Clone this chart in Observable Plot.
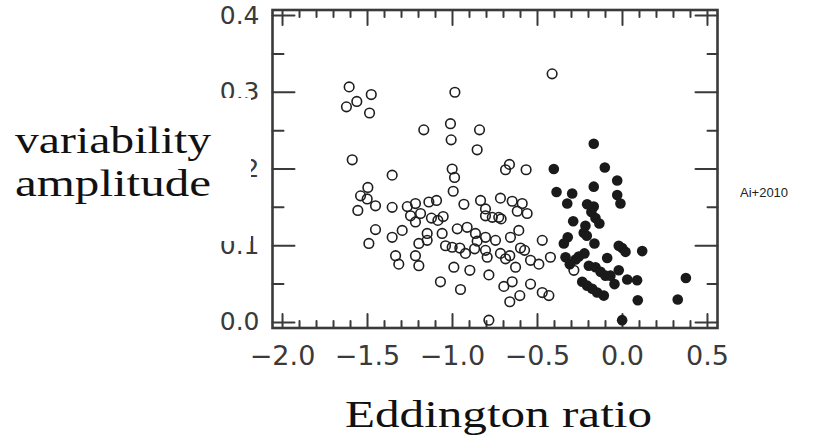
<!DOCTYPE html>
<html>
<head>
<meta charset="utf-8">
<script src="https://cdn.jsdelivr.net/npm/d3@7"></script>
<script src="https://cdn.jsdelivr.net/npm/@observablehq/plot@0.6"></script>
<style>
  html, body { margin: 0; padding: 0; background: #fff; }
  #chart { width: 821px; height: 439px; }
</style>
</head>
<body>
<div id="chart"></div>
<script>
// ---- data ----
const xMajorTicks = [-2.0, -1.5, -1.0, -0.5, 0.0, 0.5];
const xMinorTicks = [-1.9, -1.8, -1.7, -1.6, -1.4, -1.3, -1.2, -1.1, -0.9, -0.8, -0.7, -0.6,
                     -0.4, -0.3, -0.2, -0.1, 0.1, 0.2, 0.3, 0.4];
const yMajorTicks = [0.0, 0.1, 0.2, 0.3, 0.4];
const yMinorTicks = [0.05, 0.15, 0.25, 0.35];

const yTitleLines = ["variability", "amplitude"];
const xTitle = "Eddington ratio";
const sourceNote = "Ai+2010";

// open circles (lower Eddington ratio)
const openX = [-1.608, -1.478, -1.563, -1.624, -1.488, -1.169, -0.414, -0.986, -1.012, -1.008,
  -0.841, -0.855, -1.590, -1.355, -1.002, -0.988, -0.996, -0.665, -0.688, -0.567,
  -1.498, -1.541, -1.502, -1.557, -1.453, -1.355, -1.266, -1.218, -1.139, -1.094,
  -0.933, -0.835, -0.806, -0.718, -0.649, -0.590, -0.561, -0.619, -1.247, -1.188,
  -1.124, -1.086, -1.055, -1.218, -0.806, -0.766, -0.728, -0.714, -1.453, -1.296,
  -1.355, -1.492, -1.149, -1.061, -1.198, -1.149, -0.972, -0.914, -1.041, -1.002,
  -0.957, -0.924, -0.865, -0.806, -0.747, -0.870, -0.806, -0.796, -0.659, -0.610,
  -0.718, -0.688, -0.663, -0.629, -0.576, -0.541, -0.492, -0.472, -0.424, -1.335,
  -1.316, -1.218, -1.198, -0.992, -0.898, -0.786, -1.071, -0.953, -0.698, -0.649,
  -0.663, -0.604, -0.541, -0.472, -0.433, -0.786, -0.286, -0.600, -0.855];
const openY = [0.307, 0.297, 0.288, 0.281, 0.273, 0.251, 0.324, 0.300, 0.259, 0.238,
  0.251, 0.225, 0.212, 0.192, 0.200, 0.189, 0.171, 0.206, 0.199, 0.199,
  0.176, 0.165, 0.161, 0.146, 0.152, 0.150, 0.151, 0.155, 0.157, 0.159,
  0.154, 0.159, 0.148, 0.162, 0.158, 0.155, 0.142, 0.145, 0.139, 0.142,
  0.136, 0.133, 0.138, 0.131, 0.139, 0.137, 0.137, 0.135, 0.121, 0.120,
  0.111, 0.103, 0.116, 0.116, 0.103, 0.107, 0.122, 0.124, 0.100, 0.098,
  0.097, 0.090, 0.116, 0.111, 0.107, 0.096, 0.094, 0.085, 0.111, 0.120,
  0.090, 0.083, 0.087, 0.072, 0.094, 0.081, 0.076, 0.107, 0.085, 0.087,
  0.076, 0.087, 0.074, 0.072, 0.068, 0.062, 0.053, 0.043, 0.047, 0.053,
  0.027, 0.035, 0.050, 0.039, 0.035, 0.003, 0.068, 0.097, 0.106];

// filled circles (higher Eddington ratio)
const filledX = [-0.169, -0.104, -0.404, -0.031, -0.169, -0.388, -0.296, -0.031, -0.012, -0.325,
  -0.208, -0.169, -0.183, -0.159, -0.136, -0.290, -0.218, -0.228, -0.210, -0.322,
  -0.345, -0.165, -0.022, -0.002, 0.018, 0.116, -0.335, -0.257, -0.224, -0.276,
  -0.090, -0.310, -0.198, -0.159, -0.129, -0.100, -0.071, -0.022, -0.047, 0.028,
  0.086, 0.373, -0.237, -0.208, -0.178, -0.149, -0.110, 0.090, 0.325, -0.002];
const filledY = [0.233, 0.202, 0.200, 0.185, 0.177, 0.170, 0.168, 0.166, 0.155, 0.155,
  0.154, 0.151, 0.144, 0.136, 0.129, 0.132, 0.126, 0.117, 0.113, 0.111,
  0.103, 0.103, 0.100, 0.097, 0.092, 0.093, 0.085, 0.086, 0.090, 0.082,
  0.084, 0.076, 0.074, 0.072, 0.066, 0.061, 0.061, 0.068, 0.050, 0.056,
  0.055, 0.058, 0.053, 0.048, 0.044, 0.039, 0.035, 0.029, 0.030, 0.003];

// ---- build tables ----
const openPts = openX.map((x, i) => ({x, y: openY[i]}));
const filledPts = filledX.map((x, i) => ({x, y: filledY[i]}));

const ink = "#3a3a3a";
const tickShape = {draw(ctx, l) { ctx.moveTo(0, 0); ctx.lineTo(0, -l); }};
const ticksX = (data, anchor, len) => Plot.vectorX(data, {
  x: d => d, frameAnchor: anchor, rotate: anchor === "bottom" ? 0 : 180,
  length: len, anchor: "start", shape: tickShape, stroke: ink, strokeWidth: 2
});
const ticksY = (data, anchor, len) => Plot.vectorY(data, {
  y: d => d, frameAnchor: anchor, rotate: anchor === "left" ? 90 : -90,
  length: len, anchor: "start", shape: tickShape, stroke: ink, strokeWidth: 2
});

const fmt = d3.format(".1f");

const chart = Plot.plot({
  width: 821,
  height: 439,
  marginLeft: 272,
  marginRight: 104,
  marginTop: 9.5,
  marginBottom: 111.5,
  x: {domain: [-2.059, 0.559]},
  y: {domain: [-0.0072, 0.4072]},
  style: {fontFamily: "DejaVu Sans", background: "white", color: "#333"},
  marks: [
    Plot.axisX(xMajorTicks, {anchor: "bottom", tickSize: 0, tickPadding: 18, tickFormat: fmt,
      fontSize: 27, label: null, fill: "#3a3a3a"}),
    Plot.axisY(yMajorTicks, {anchor: "left", tickSize: 0, tickPadding: 13, tickFormat: fmt,
      fontSize: 25, label: null, fill: "#3a3a3a"}),
    ticksX(xMajorTicks, "bottom", 14),
    ticksX(xMinorTicks, "bottom", 7),
    ticksX(xMajorTicks, "top", 15),
    ticksX(xMinorTicks, "top", 7),
    ticksY(yMajorTicks, "left", 22),
    ticksY(yMinorTicks, "left", 11),
    ticksY(yMajorTicks, "right", 22),
    ticksY(yMinorTicks, "right", 10),
    Plot.dot(openPts, {x: "x", y: "y", r: 4.8, stroke: "#1e1e1e", strokeWidth: 1.6, fill: "none"}),
    Plot.dot(filledPts, {x: "x", y: "y", r: 5.3, fill: "#1a1a1a", stroke: "none"}),
    Plot.frame({stroke: ink, strokeWidth: 2.6})
  ]
});

document.getElementById("chart").append(chart);

// overlay titles (white box covers part of the y tick labels as in the reference)
const svg = d3.select(chart);
svg.append("rect").attr("x", 0).attr("y", 98).attr("width", 251).attr("height", 143).attr("fill", "white");
const serif = "'Liberation Serif', 'DejaVu Serif', serif";
yTitleLines.forEach((t, i) => {
  svg.append("text").text(t)
    .attr("x", 15).attr("y", i === 0 ? 153 : 196)
    .attr("text-anchor", "start")
    .attr("textLength", 196).attr("lengthAdjust", "spacingAndGlyphs")
    .attr("font-family", serif).attr("font-size", 38).attr("fill", "#111");
});
svg.append("text").text(xTitle)
  .attr("x", 345).attr("y", 427)
  .attr("text-anchor", "start")
  .attr("textLength", 307).attr("lengthAdjust", "spacingAndGlyphs")
  .attr("font-family", serif).attr("font-size", 38).attr("fill", "#111");
svg.append("text").text(sourceNote)
  .attr("x", 740).attr("y", 197)
  .attr("text-anchor", "start")
  .attr("font-family", "'Liberation Sans', Arial, sans-serif").attr("font-size", 13).attr("fill", "#222");
</script>
</body>
</html>
